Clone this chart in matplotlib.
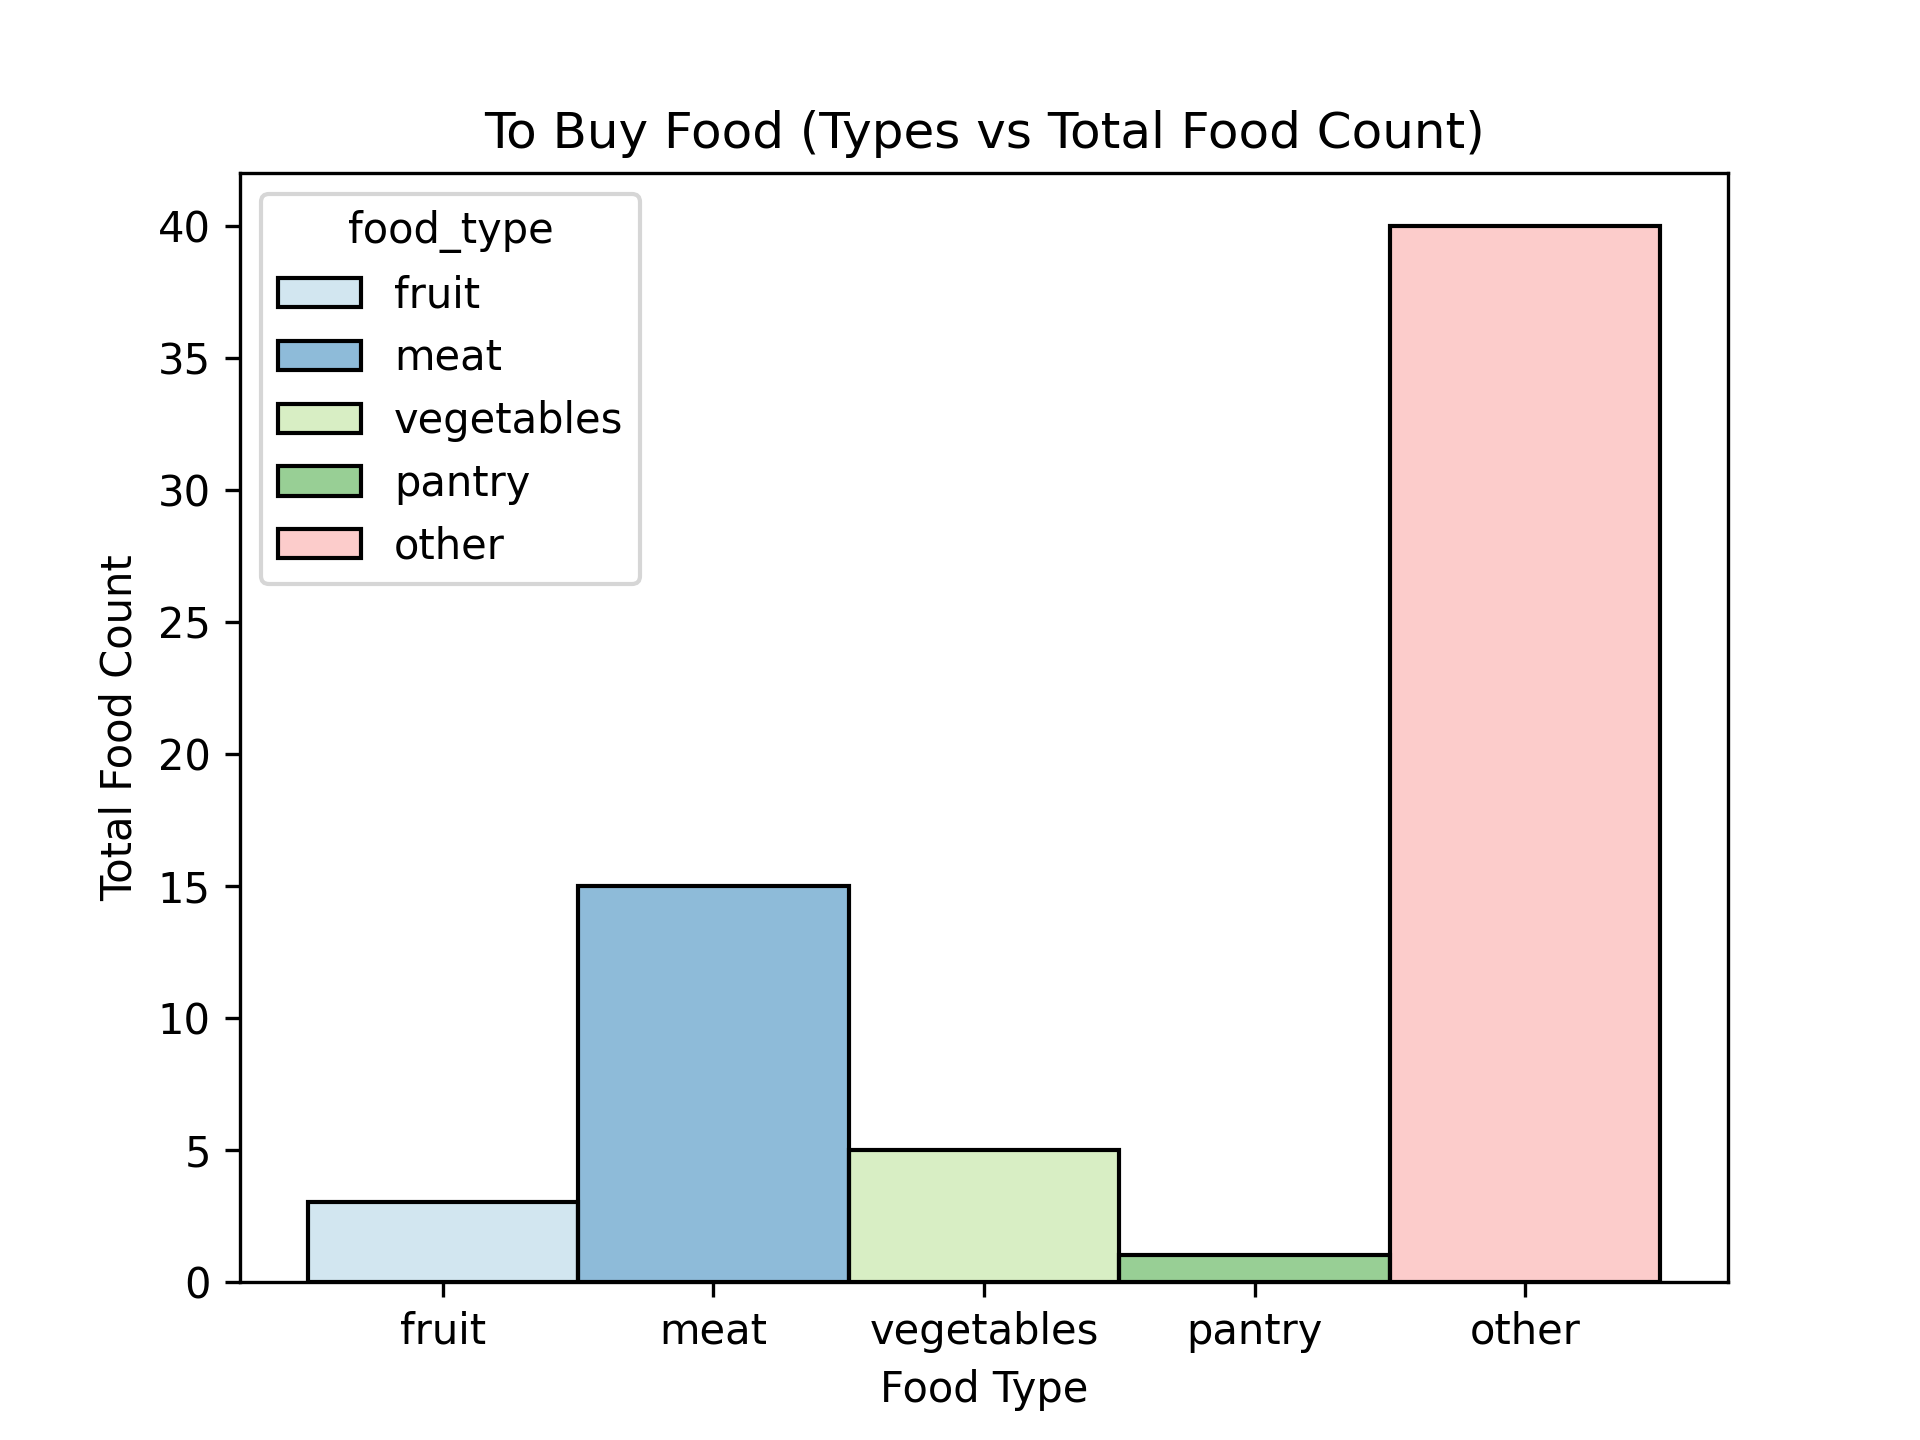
import matplotlib
matplotlib.use("Agg")
import matplotlib.pyplot as plt
from matplotlib.colors import to_rgba

food_types = ["fruit", "meat", "vegetables", "pantry", "other"]
counts = [3, 15, 5, 1, 40]
colors = ["#a6cee3", "#1f78b4", "#b2df8a", "#33a02c", "#fb9a99"]

fig, ax = plt.subplots(figsize=(6.4, 4.8), dpi=300)

for i, (name, n, c) in enumerate(zip(food_types, counts, colors)):
    # alpha only on the fill, edges stay solid black
    ax.bar(i, n, width=1.0, color=to_rgba(c, 0.5), edgecolor="black",
           linewidth=1.0, label=name)

ax.set_xticks(range(len(food_types)))
ax.set_xticklabels(food_types)
ax.set_title("To Buy Food (Types vs Total Food Count)")
ax.set_xlabel("Food Type")
ax.set_ylabel("Total Food Count")
ax.legend(title="food_type", loc="upper left")

fig.savefig("out.png", dpi=300)
